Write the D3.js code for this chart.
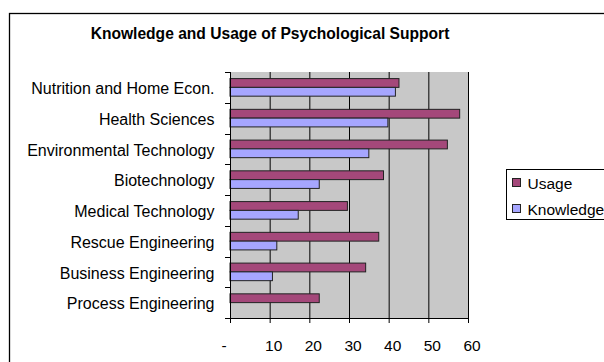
<!DOCTYPE html>
<html><head><meta charset="utf-8">
<script src="https://cdn.jsdelivr.net/npm/d3@7"></script>
<style>body{margin:0;background:#fff}svg{display:block;font-family:"Liberation Sans",Arial,sans-serif}</style>
</head><body><svg id="c" width="604" height="362"></svg>
<script>
const categories = ["Nutrition and Home Econ.","Health Sciences","Environmental Technology","Biotechnology","Medical Technology","Rescue Engineering","Business Engineering","Process Engineering"];
const usage = [42.6, 57.9, 54.8, 38.7, 29.6, 37.5, 34.2, 22.5];
const knowledge = [41.7, 39.8, 35.0, 22.5, 17.2, 11.8, 10.7, 0];
const seriesNames = ["Usage","Knowledge"];
const xTicks = [0,10,20,30,40,50,60];
const title = "Knowledge and Usage of Psychological Support";

const colors = {Usage:"#a4487a", Knowledge:"#a6a6ff"};
const svg = d3.select("#c");
const L=230, R=468, T=72, B=318;

svg.append("rect").attr("x",9.5).attr("y",13.5).attr("width",700).attr("height",500)
  .attr("fill","#fff").attr("stroke","#000").attr("stroke-width",1.3);

svg.append("text").attr("x",270).attr("y",39).attr("text-anchor","middle")
  .attr("font-weight","bold").attr("font-size",15.6).text(title);

const x = d3.scaleLinear().domain([0,60]).range([L,R]);
const y = d3.scaleBand().domain(categories).range([T,B]).paddingInner(0).paddingOuter(0);
const inner = d3.scaleBand().domain(seriesNames).range([0,y.bandwidth()]).paddingInner(0).paddingOuter(0.75);

svg.append("rect").attr("x",L).attr("y",T).attr("width",R-L).attr("height",B-T).attr("fill","#c8c8c8");

// gridlines
svg.append("g").selectAll("line").data(xTicks.slice(1)).join("line")
  .attr("x1",d=>x(d)+0.5).attr("x2",d=>x(d)+0.5).attr("y1",T).attr("y2",B)
  .attr("stroke","#000").attr("stroke-width",1);

const data = categories.map((c,i)=>({c, Usage:usage[i], Knowledge:knowledge[i]}));
const g = svg.append("g");
data.forEach(d=>{
  seriesNames.forEach(s=>{
    if (d[s] <= 0) return;
    g.append("rect").attr("x",x(0)).attr("y",y(d.c)+inner(s))
      .attr("width",x(d[s])-x(0)).attr("height",inner.bandwidth())
      .attr("fill",colors[s]).attr("stroke","#222").attr("stroke-width",1);
  });
});

// y axis
const yAxis = svg.append("g");
yAxis.append("line").attr("x1",L+0.5).attr("x2",L+0.5).attr("y1",T).attr("y2",B).attr("stroke","#000");
const bounds = d3.range(categories.length+1).map(i=>T+i*y.step());
yAxis.selectAll(".tk").data(bounds).join("line").attr("class","tk")
  .attr("x1",L-5).attr("x2",L).attr("y1",d=>Math.round(d)+0.5).attr("y2",d=>Math.round(d)+0.5).attr("stroke","#000");
yAxis.selectAll("text").data(categories).join("text")
  .attr("x",214.5).attr("y",d=>y(d)+y.bandwidth()/2+6.8).attr("text-anchor","end")
  .attr("font-size",16).text(d=>d);

// x axis
const xAxis = svg.append("g").attr("transform",`translate(0,${B})`)
  .call(d3.axisBottom(x).tickValues(xTicks).tickSize(5).tickSizeOuter(0)
    .tickFormat(d=>d===0?"-":d));
xAxis.select(".domain").attr("stroke","#000");
xAxis.selectAll(".tick line").attr("stroke","#000");
xAxis.selectAll(".tick text").attr("font-size",15.5).attr("font-family","Liberation Sans, Arial, sans-serif")
  .attr("fill","#000").attr("y",33).attr("dy",0).attr("dx",d=>d===0?-6.5:3.5);

// legend
const leg = svg.append("g");
leg.append("rect").attr("x",506.5).attr("y",169.5).attr("width",120).attr("height",50)
  .attr("fill","#fff").attr("stroke","#000");
seriesNames.forEach((s,i)=>{
  leg.append("rect").attr("x",512.5).attr("y",178.5+i*26).attr("width",8).attr("height",8)
    .attr("fill",colors[s]).attr("stroke","#222");
  leg.append("text").attr("x",527.5).attr("y",189+i*26).attr("font-size",15.5).text(s);
});
</script></body></html>
